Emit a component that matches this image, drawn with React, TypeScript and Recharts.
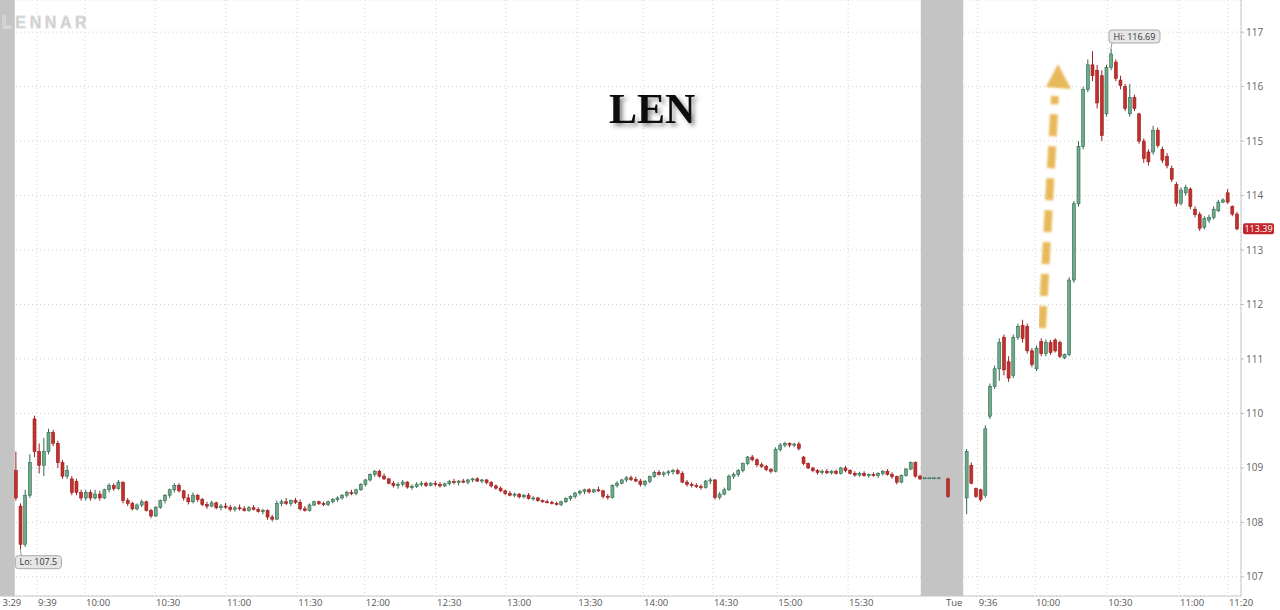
import React from "react";
import {
  Bar,
  CartesianGrid,
  ComposedChart,
  ReferenceArea,
  ReferenceDot,
  XAxis,
  YAxis,
} from "recharts";

// [open, high, low, close] per 2-minute slot
type Ohlc = [number, number, number, number];

const day1Candles: Ohlc[] = [
  [108.95, 109.3, 108.4, 108.45], [108.3, 108.35, 107.5, 107.6], [107.6, 108.6, 107.55, 108.5], [108.5, 109.25, 108.45, 109.1], [109.9, 109.96, 109.2, 109.3],
  [109.3, 109.45, 108.9, 109.05], [109.05, 109.55, 108.85, 109.3], [109.3, 109.72, 109.25, 109.65], [109.65, 109.7, 109.4, 109.45], [109.45, 109.5, 109.0, 109.1],
  [109.1, 109.15, 108.8, 108.85], [108.85, 109.05, 108.8, 108.95], [108.8, 108.85, 108.5, 108.55], [108.75, 108.8, 108.5, 108.55], [108.55, 108.6, 108.4, 108.45],
  [108.45, 108.6, 108.4, 108.55], [108.55, 108.6, 108.4, 108.45], [108.45, 108.6, 108.42, 108.52], [108.52, 108.58, 108.4, 108.45], [108.45, 108.62, 108.43, 108.6],
  [108.6, 108.72, 108.55, 108.68], [108.68, 108.72, 108.58, 108.62], [108.62, 108.78, 108.6, 108.74], [108.74, 108.75, 108.35, 108.4], [108.4, 108.45, 108.3, 108.35],
  [108.35, 108.38, 108.22, 108.25], [108.25, 108.35, 108.22, 108.32], [108.32, 108.42, 108.28, 108.38], [108.38, 108.4, 108.2, 108.22], [108.22, 108.25, 108.08, 108.12],
  [108.12, 108.3, 108.1, 108.28], [108.28, 108.42, 108.25, 108.4], [108.4, 108.52, 108.35, 108.5], [108.5, 108.62, 108.45, 108.6], [108.6, 108.72, 108.55, 108.68],
  [108.68, 108.72, 108.55, 108.58], [108.58, 108.6, 108.4, 108.45], [108.45, 108.52, 108.33, 108.38], [108.38, 108.55, 108.35, 108.5], [108.5, 108.52, 108.38, 108.42],
  [108.42, 108.45, 108.3, 108.33], [108.33, 108.38, 108.25, 108.3], [108.3, 108.4, 108.28, 108.36], [108.36, 108.38, 108.24, 108.27], [108.27, 108.34, 108.22, 108.3],
  [108.3, 108.36, 108.25, 108.28], [108.28, 108.32, 108.2, 108.24], [108.24, 108.3, 108.2, 108.27], [108.27, 108.33, 108.22, 108.25], [108.25, 108.3, 108.2, 108.22],
  [108.22, 108.3, 108.2, 108.27], [108.27, 108.32, 108.22, 108.24], [108.24, 108.28, 108.18, 108.2], [108.2, 108.25, 108.15, 108.22], [108.22, 108.24, 108.05, 108.1],
  [108.1, 108.14, 108.02, 108.06], [108.06, 108.4, 108.05, 108.35], [108.35, 108.42, 108.3, 108.38], [108.38, 108.45, 108.32, 108.35], [108.35, 108.42, 108.3, 108.4],
  [108.4, 108.45, 108.34, 108.37], [108.37, 108.42, 108.22, 108.25], [108.25, 108.3, 108.2, 108.22], [108.22, 108.35, 108.2, 108.32], [108.32, 108.4, 108.3, 108.38],
  [108.38, 108.4, 108.32, 108.35], [108.35, 108.38, 108.3, 108.33], [108.33, 108.4, 108.3, 108.38], [108.38, 108.45, 108.35, 108.42], [108.42, 108.48, 108.38, 108.45],
  [108.45, 108.52, 108.42, 108.5], [108.5, 108.58, 108.46, 108.55], [108.55, 108.6, 108.5, 108.53], [108.53, 108.62, 108.5, 108.6], [108.6, 108.72, 108.58, 108.7],
  [108.7, 108.8, 108.66, 108.78], [108.78, 108.9, 108.75, 108.88], [108.88, 108.96, 108.84, 108.94], [108.94, 108.97, 108.82, 108.85], [108.85, 108.9, 108.78, 108.8],
  [108.8, 108.82, 108.7, 108.72], [108.72, 108.76, 108.64, 108.68], [108.68, 108.74, 108.62, 108.7], [108.7, 108.78, 108.66, 108.74], [108.74, 108.76, 108.62, 108.65],
  [108.65, 108.7, 108.6, 108.66], [108.66, 108.74, 108.63, 108.7], [108.7, 108.76, 108.66, 108.72], [108.72, 108.75, 108.65, 108.68], [108.68, 108.74, 108.66, 108.72],
  [108.72, 108.76, 108.66, 108.7], [108.7, 108.74, 108.64, 108.67], [108.67, 108.73, 108.65, 108.71], [108.71, 108.78, 108.68, 108.75], [108.75, 108.8, 108.7, 108.73],
  [108.73, 108.78, 108.68, 108.76], [108.76, 108.8, 108.72, 108.74], [108.74, 108.8, 108.7, 108.78], [108.78, 108.82, 108.74, 108.8], [108.8, 108.83, 108.74, 108.76],
  [108.76, 108.8, 108.72, 108.78], [108.78, 108.8, 108.7, 108.73], [108.73, 108.76, 108.64, 108.67], [108.67, 108.7, 108.6, 108.63], [108.63, 108.66, 108.56, 108.58],
  [108.58, 108.6, 108.5, 108.53], [108.53, 108.58, 108.48, 108.5], [108.5, 108.55, 108.46, 108.52], [108.52, 108.54, 108.44, 108.47], [108.47, 108.52, 108.44, 108.5],
  [108.5, 108.54, 108.42, 108.44], [108.44, 108.48, 108.4, 108.45], [108.45, 108.47, 108.38, 108.4], [108.4, 108.42, 108.36, 108.38], [108.38, 108.42, 108.35, 108.37],
  [108.37, 108.4, 108.33, 108.35], [108.35, 108.38, 108.31, 108.33], [108.33, 108.4, 108.3, 108.38], [108.38, 108.46, 108.36, 108.44], [108.44, 108.5, 108.4, 108.48],
  [108.48, 108.56, 108.44, 108.54], [108.54, 108.6, 108.5, 108.57], [108.57, 108.62, 108.52, 108.6], [108.6, 108.63, 108.53, 108.56], [108.56, 108.62, 108.54, 108.6],
  [108.6, 108.66, 108.56, 108.58], [108.58, 108.6, 108.44, 108.48], [108.48, 108.52, 108.42, 108.46], [108.46, 108.7, 108.44, 108.68], [108.68, 108.76, 108.64, 108.72],
  [108.72, 108.8, 108.7, 108.78], [108.78, 108.85, 108.74, 108.82], [108.82, 108.86, 108.76, 108.79], [108.79, 108.84, 108.74, 108.76], [108.76, 108.8, 108.66, 108.7],
  [108.7, 108.78, 108.66, 108.75], [108.75, 108.86, 108.72, 108.84], [108.84, 108.95, 108.82, 108.92], [108.92, 108.96, 108.86, 108.88], [108.88, 108.94, 108.84, 108.91],
  [108.91, 108.96, 108.86, 108.93], [108.93, 108.98, 108.88, 108.95], [108.95, 108.99, 108.88, 108.9], [108.9, 108.94, 108.72, 108.74], [108.74, 108.78, 108.66, 108.7],
  [108.7, 108.74, 108.64, 108.68], [108.68, 108.72, 108.63, 108.66], [108.66, 108.7, 108.6, 108.64], [108.64, 108.78, 108.62, 108.76], [108.76, 108.82, 108.7, 108.78],
  [108.78, 108.8, 108.42, 108.46], [108.46, 108.56, 108.42, 108.52], [108.52, 108.64, 108.5, 108.6], [108.6, 108.88, 108.58, 108.85], [108.85, 108.92, 108.8, 108.88],
  [108.88, 108.98, 108.84, 108.95], [108.95, 109.1, 108.92, 109.08], [109.08, 109.22, 109.05, 109.2], [109.2, 109.24, 109.12, 109.15], [109.15, 109.18, 109.02, 109.06],
  [109.06, 109.1, 109.0, 109.03], [109.03, 109.06, 108.94, 108.97], [108.97, 109.0, 108.9, 108.94], [108.94, 109.38, 108.92, 109.34], [109.34, 109.46, 109.3, 109.42],
  [109.42, 109.48, 109.38, 109.45], [109.45, 109.47, 109.38, 109.42], [109.42, 109.46, 109.38, 109.44], [109.44, 109.48, 109.32, 109.36], [109.2, 109.22, 109.05, 109.08],
  [109.08, 109.1, 108.98, 109.0], [109.0, 109.02, 108.92, 108.95], [108.95, 108.98, 108.88, 108.92], [108.92, 108.97, 108.88, 108.94], [108.94, 108.98, 108.89, 108.91],
  [108.91, 108.96, 108.88, 108.94], [108.94, 108.97, 108.88, 108.9], [108.9, 109.02, 108.88, 109.0], [109.0, 109.04, 108.92, 108.95], [108.95, 108.98, 108.88, 108.9],
  [108.9, 108.94, 108.84, 108.87], [108.87, 108.93, 108.84, 108.9], [108.9, 108.94, 108.84, 108.86], [108.86, 108.9, 108.82, 108.88], [108.88, 108.92, 108.84, 108.86],
  [108.86, 108.92, 108.82, 108.9], [108.9, 108.96, 108.86, 108.94], [108.94, 108.98, 108.86, 108.88], [108.88, 108.92, 108.8, 108.84], [108.84, 108.86, 108.7, 108.74],
  [108.74, 108.88, 108.72, 108.86], [108.86, 109.0, 108.84, 108.98], [108.98, 109.12, 108.96, 109.1], [109.1, 109.12, 108.82, 108.85], [108.85, 108.88, 108.78, 108.8],
];

const afterHoursSlots = [195, 196, 197, 198, 200];
const afterHoursCandles: Ohlc[] = [
  [108.82, 108.82, 108.82, 108.82], [108.82, 108.82, 108.82, 108.82], [108.82, 108.82, 108.82, 108.82], [108.82, 108.82, 108.82, 108.82],
  [108.8, 108.82, 108.45, 108.48],
];

const day2Start = 204;
const day2Candles: Ohlc[] = [
  [108.45, 109.35, 108.15, 109.3], [109.05, 109.1, 108.7, 108.72], [108.62, 108.64, 108.45, 108.48], [108.6, 108.62, 108.38, 108.42], [108.5, 109.78, 108.45, 109.72],
  [109.95, 110.55, 109.9, 110.5], [110.5, 110.88, 110.45, 110.82], [110.82, 111.38, 110.6, 111.3], [111.4, 111.45, 110.7, 110.8], [110.95, 111.05, 110.58, 110.65],
  [110.7, 111.45, 110.65, 111.4], [111.4, 111.65, 111.35, 111.6], [111.62, 111.72, 111.3, 111.38], [111.6, 111.65, 111.1, 111.15], [111.15, 111.2, 110.85, 110.9],
  [110.82, 111.25, 110.78, 111.2], [111.32, 111.38, 111.05, 111.1], [111.1, 111.36, 111.05, 111.3], [111.3, 111.35, 111.08, 111.12], [111.35, 111.38, 111.12, 111.15],
  [111.3, 111.34, 111.02, 111.05], [111.02, 111.1, 111.0, 111.08], [111.08, 112.5, 111.05, 112.45], [112.45, 113.9, 112.4, 113.85], [113.85, 115.0, 113.8, 114.9],
  [114.9, 116.0, 114.85, 115.95], [115.95, 116.5, 115.9, 116.4], [116.4, 116.65, 116.1, 116.2], [116.3, 116.4, 115.6, 115.7], [116.2, 116.3, 115.0, 115.1],
  [115.5, 116.4, 115.45, 116.35], [116.35, 116.69, 116.3, 116.6], [116.45, 116.5, 116.1, 116.15], [116.12, 116.2, 115.95, 116.02], [116.0, 116.05, 115.55, 115.6],
  [115.5, 116.05, 115.45, 115.8], [115.8, 115.85, 115.55, 115.6], [115.5, 115.52, 114.95, 115.0], [115.0, 115.05, 114.6, 114.68], [114.8, 114.85, 114.55, 114.62],
  [114.8, 115.28, 114.75, 115.2], [115.2, 115.25, 114.88, 114.92], [114.85, 114.9, 114.6, 114.65], [114.72, 114.78, 114.5, 114.55], [114.5, 114.55, 114.25, 114.3],
  [114.2, 114.25, 113.8, 113.86], [113.86, 114.15, 113.82, 114.1], [114.05, 114.2, 114.0, 114.15], [114.12, 114.15, 113.75, 113.8], [113.75, 113.8, 113.6, 113.65],
  [113.65, 113.7, 113.35, 113.4], [113.42, 113.62, 113.38, 113.58], [113.55, 113.65, 113.5, 113.6], [113.6, 113.8, 113.56, 113.75], [113.72, 113.92, 113.7, 113.88],
  [113.88, 113.95, 113.86, 113.92], [114.05, 114.12, 113.85, 113.88], [113.8, 113.82, 113.62, 113.66], [113.66, 113.7, 113.36, 113.39],
];

// time axis labels and the slot each one sits on
const timeTicks = [-3.05, 4.57, 14.87, 29.9, 45.1, 60.4, 74.9, 90.2, 105.2, 120.5, 134.6, 149.6, 163.4, 178.6, 199.4, 206.4, 218.7, 234.2, 249.6, 260.1];
const timeLabels = ["3:29", "9:39", "10:00", "10:30", "11:00", "11:30", "12:00", "12:30", "13:00", "13:30", "14:00", "14:30", "15:00", "15:30", "Tue", "9:36", "10:00", "10:30", "11:00", "11:20"];
const priceTicks = [107, 108, 109, 110, 111, 112, 113, 114, 115, 116, 117];
const closedSessions = [
  [-3.37, -0.2],
  [194.2, 203.3],
];

const X_MIN = -3.37;
const X_MAX = 262.9;
const Y_MIN = 106.65;
const Y_MAX = 117.59;

const GREEN_FILL = "#6fa98b";
const GREEN_LINE = "#2f6a4e";
const RED_FILL = "#c2302c";
const RED_LINE = "#9a1f1f";
const AXIS_FONT = "'Open Sans', 'Noto Sans', sans-serif";

const toRow = (slot: number, [open, high, low, close]: Ohlc) => ({
  slot,
  open,
  high,
  low,
  close,
  range: [low, high],
});

const rows = [
  ...day1Candles.map((c, i) => toRow(i, c)),
  ...afterHoursCandles.map((c, i) => toRow(afterHoursSlots[i], c)),
  ...day2Candles.map((c, i) => toRow(day2Start + i, c)),
];

const hiRow = rows.reduce((a, b) => (b.high > a.high ? b : a));
const loRow = rows.reduce((a, b) => (b.low < a.low ? b : a));
const lastRow = rows[rows.length - 1];

const Candle = (props: any) => {
  const { x, y, width, height, payload } = props;
  if (x == null || y == null || !payload) return null;
  const top = Math.min(y, y + height);
  const h = Math.abs(height);
  const { open, close, high, low } = payload;
  const k = high > low ? h / (high - low) : 0;
  const toY = (v: number) => top + (high - v) * k;
  const up = close >= open;
  const stroke = up ? GREEN_LINE : RED_LINE;
  const bodyTop = toY(Math.max(open, close));
  const bodyBottom = toY(Math.min(open, close));
  const cx = x + width / 2;
  return (
    <g>
      <line x1={cx} x2={cx} y1={top} y2={top + h} stroke={stroke} strokeWidth={1} />
      <rect
        x={x}
        y={bodyTop}
        width={width}
        height={Math.max(bodyBottom - bodyTop, 1)}
        fill={up ? GREEN_FILL : RED_FILL}
        stroke={stroke}
        strokeWidth={0.6}
      />
    </g>
  );
};

const TimeTick = (props: any) => {
  const { x, payload } = props;
  const label = timeLabels[timeTicks.indexOf(payload.value)];
  return (
    <text x={x + 1} y={606} fill="#555" fontSize={9.5} fontFamily={AXIS_FONT} textAnchor="start">
      {label}
    </text>
  );
};

const PriceTick = (props: any) => {
  const { x, y, payload } = props;
  return (
    <text x={x} y={y + 3.5} fill="#666" fontSize={10} fontFamily={AXIS_FONT} textAnchor="start">
      {payload.value}
    </text>
  );
};

const Callout = ({ cx, cy, text, below }: any) => {
  const w = text.length * 5 + 1;
  const bx = below ? cx - 5 : cx - 2;
  const by = below ? cy + 6 : cy - 19;
  return (
    <g>
      <line x1={cx} y1={cy} x2={cx + 1} y2={below ? by : by + 13} stroke="#999" strokeWidth={1} />
      <rect x={bx} y={by} width={w} height={13} rx={3} fill="#e6e6e6" stroke="#a9a9a9" strokeWidth={1} />
      <text x={bx + w / 2} y={by + 9.5} fontSize={9} fill="#333" textAnchor="middle" fontFamily={AXIS_FONT}>
        {text}
      </text>
    </g>
  );
};

const PriceTag = ({ cx, cy }: any) => (
  <g>
    <rect x={cx + 2} y={cy - 5.5} width={31} height={11} rx={2} fill="#c1272d" />
    <text x={cx + 17.5} y={cy + 3.5} fontSize={9} fill="#fff" textAnchor="middle" fontFamily={AXIS_FONT}>
      {lastRow.close.toFixed(2)}
    </text>
  </g>
);

export default function App() {
  return (
    <div style={{ position: "absolute", left: 0, top: 0, width: 1280, height: 610, background: "#fff" }}>
      <ComposedChart width={1280} height={610} data={rows} margin={{ top: 0, right: 0, left: 0, bottom: 0 }}>
        <CartesianGrid stroke="#d2d2d2" strokeDasharray="1 3" />
        {closedSessions.map(([a, b], i) => (
          <ReferenceArea key={i} x1={a} x2={b} fill="#c4c4c4" fillOpacity={1} stroke="none" ifOverflow="hidden" />
        ))}
        <XAxis
          type="number"
          dataKey="slot"
          domain={[X_MIN, X_MAX]}
          ticks={timeTicks}
          interval={0}
          allowDataOverflow
          height={14}
          tickLine={false}
          axisLine={{ stroke: "#c8c8c8" }}
          tick={<TimeTick />}
        />
        <YAxis
          orientation="right"
          type="number"
          domain={[Y_MIN, Y_MAX]}
          ticks={priceTicks}
          interval={0}
          allowDataOverflow
          width={39}
          tickSize={3}
          tickMargin={2}
          tickLine={{ stroke: "#bbb" }}
          axisLine={{ stroke: "#c8c8c8" }}
          tick={<PriceTick />}
        />
        <Bar dataKey="range" barSize={3} shape={Candle} isAnimationActive={false} />
        <ReferenceDot x={hiRow.slot} y={hiRow.high} r={1} shape={(p: any) => <Callout cx={p.cx} cy={p.cy} text={`Hi: ${hiRow.high}`} />} />
        <ReferenceDot x={loRow.slot} y={loRow.low} r={1} shape={(p: any) => <Callout cx={p.cx} cy={p.cy} text={`Lo: ${loRow.low}`} below />} />
        <ReferenceDot x={X_MAX} y={lastRow.close} r={1} shape={(p: any) => <PriceTag cx={p.cx} cy={p.cy} />} />
      </ComposedChart>
      <svg width={1280} height={610} style={{ position: "absolute", left: 0, top: 0, pointerEvents: "none" }}>
        <defs>
          <filter id="shadow" x="-20%" y="-20%" width="140%" height="140%">
            <feDropShadow dx={3} dy={3} stdDeviation={2} floodColor="#000" floodOpacity={0.45} />
          </filter>
          <filter id="soft">
            <feGaussianBlur stdDeviation={0.9} />
          </filter>
        </defs>
        <text
          x={2}
          y={28}
          fontSize={16}
          fontWeight="bold"
          fill="#c8c8c8"
          stroke="#e2e2e2"
          strokeWidth={0.8}
          letterSpacing={3.6}
          fontFamily="'Liberation Sans', Arial, sans-serif"
        >
          LENNAR
        </text>
        <text x={609} y={123} fontSize={42} fontWeight="bold" fill="#111" fontFamily="'Liberation Serif', 'Times New Roman', serif" filter="url(#shadow)">
          LEN
        </text>
        <g filter="url(#soft)" opacity={0.9}>
          <line x1={1042} y1={328} x2={1055} y2={96} stroke="#e6b24a" strokeWidth={8} strokeDasharray="22 10" />
          <polygon points="1058,64 1071,89 1046,87" fill="#e6b24a" />
        </g>
      </svg>
    </div>
  );
}
